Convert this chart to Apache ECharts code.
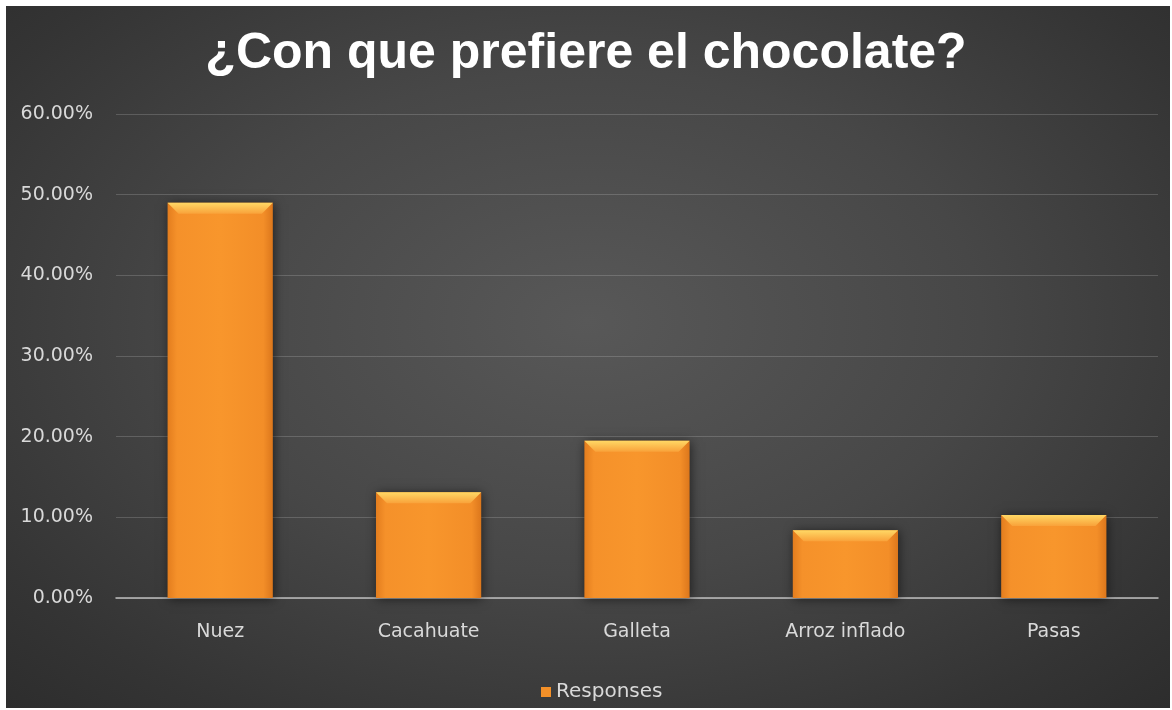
<!DOCTYPE html>
<html>
<head>
<meta charset="utf-8">
<script src="https://cdn.jsdelivr.net/npm/echarts@6/dist/echarts.min.js"></script>
<style>
  html, body { margin: 0; padding: 0; background: #ffffff; }
  #frame {
    position: absolute; left: 6px; top: 6px; width: 1164px; height: 702px;
    background: radial-gradient(ellipse 75% 80% at 50% 45%, #585858 0%, #474747 45%, #343434 80%, #2b2b2b 100%);
  }
  #chart { position: absolute; left: 0; top: 0; width: 1172px; height: 710px; }
</style>
</head>
<body>
<div id="frame"></div>
<div id="chart"></div>
<script>
// Survey answers: preferred chocolate add-in
const categories = ['Nuez', 'Cacahuate', 'Galleta', 'Arroz inflado', 'Pasas'];
const responses = [0.490, 0.131, 0.195, 0.084, 0.103];
const yTicks = { min: 0, max: 0.6, interval: 0.1 };
const seriesName = 'Responses';

const chart = echarts.init(document.getElementById('chart'), null, { renderer: 'canvas' });

// Bevelled orange bar: body with side shading plus a light top facet
function renderBar(params, api) {
  const idx = api.value(0);
  const val = api.value(1);
  const top = api.coord([idx, val]);
  const base = api.coord([idx, 0]);
  const band = api.size([1, 0])[0];
  const w = band * 0.505;
  const x0 = top[0] - w / 2;
  const x1 = top[0] + w / 2;
  const y0 = top[1];
  const yb = base[1];
  const bev = Math.min(11, (yb - y0) / 2);
  return {
    type: 'group',
    children: [
      {
        type: 'rect',
        shape: { x: x0, y: y0, width: w, height: yb - y0 },
        style: {
          fill: new echarts.graphic.LinearGradient(0, 0, 1, 0, [
            { offset: 0, color: '#e37d1e' },
            { offset: 0.09, color: '#f5912a' },
            { offset: 0.5, color: '#f8962c' },
            { offset: 0.91, color: '#f38e28' },
            { offset: 1, color: '#dc771c' }
          ]),
          shadowBlur: 10,
          shadowColor: 'rgba(0,0,0,0.55)',
          shadowOffsetX: 1,
          shadowOffsetY: 1
        }
      },
      {
        type: 'polygon',
        shape: { points: [[x0, y0], [x1, y0], [x1 - bev, y0 + bev], [x0 + bev, y0 + bev]] },
        style: {
          fill: new echarts.graphic.LinearGradient(0, 0, 0, 1, [
            { offset: 0, color: '#ffd865' },
            { offset: 1, color: '#f9a23a' }
          ])
        }
      }
    ]
  };
}

chart.setOption({
  backgroundColor: 'transparent',
  animation: false,
  title: {
    text: '¿Con que prefiere el chocolate?',
    left: 'center',
    top: 24,
    padding: [5, 0, 5, 14],
    textStyle: {
      color: '#ffffff',
      fontFamily: 'Liberation Sans',
      fontWeight: 'bold',
      fontSize: 50
    }
  },
  legend: {
    data: [{ name: seriesName, icon: 'rect', itemStyle: { color: '#f39028' } }],
    left: 536,
    top: 677,
    itemWidth: 10,
    itemHeight: 10,
    itemGap: 6,
    textStyle: { color: '#d9d9d9', fontFamily: 'DejaVu Sans', fontSize: 20 }
  },
  grid: { left: 116, right: 14, top: 114, bottom: 112 },
  xAxis: {
    type: 'category',
    data: categories,
    axisLine: { show: true, lineStyle: { color: '#bdbdbd', width: 1.5 } },
    axisTick: { show: false },
    axisLabel: { color: '#d9d9d9', fontFamily: 'DejaVu Sans', fontSize: 19, margin: 25 },
    splitLine: { show: false }
  },
  yAxis: {
    type: 'value',
    min: yTicks.min,
    max: yTicks.max,
    interval: yTicks.interval,
    axisLine: { show: false },
    axisTick: { show: false },
    axisLabel: {
      color: '#d9d9d9',
      fontFamily: 'DejaVu Sans',
      fontSize: 19,
      margin: 23,
      formatter: v => (v * 100).toFixed(2) + '%'
    },
    splitLine: { lineStyle: { color: 'rgba(255,255,255,0.17)', width: 1 } }
  },
  series: [{
    name: seriesName,
    type: 'custom',
    renderItem: renderBar,
    encode: { x: 0, y: 1 },
    data: responses.map((v, i) => [i, v])
  }]
});
</script>
</body>
</html>
